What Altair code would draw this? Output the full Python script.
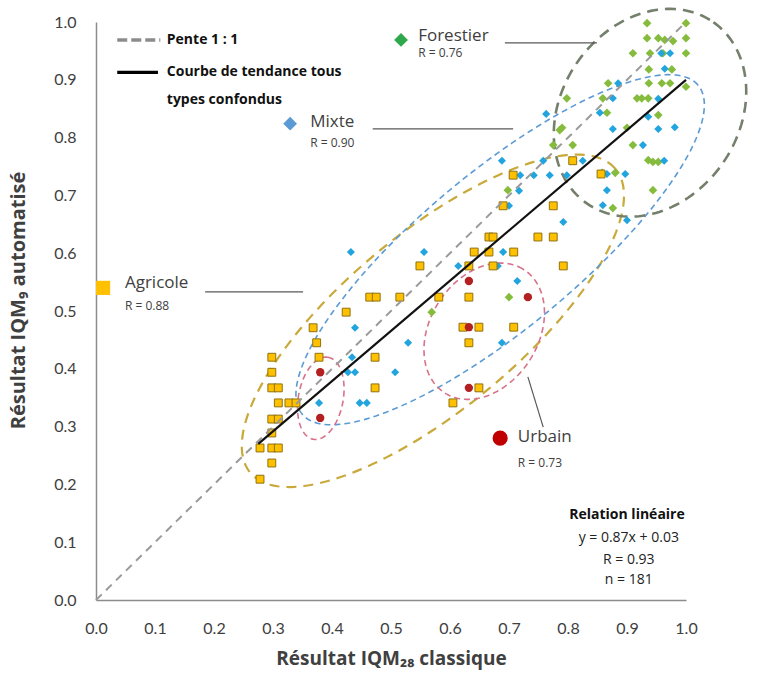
import altair as alt
import pandas as pd
import numpy as np

# ---------------- data ----------------
agricole_x = [0.278, 0.298, 0.278, 0.298, 0.309, 0.298, 0.298, 0.309, 0.309, 0.327,
              0.339, 0.298, 0.309, 0.298, 0.298, 0.378, 0.374, 0.368, 0.424, 0.473,
              0.473, 0.464, 0.475, 0.515, 0.581, 0.549, 0.632, 0.673, 0.792, 0.641,
              0.666, 0.708, 0.666, 0.673, 0.749, 0.775, 0.690, 0.775, 0.707, 0.808,
              0.856, 0.632, 0.622, 0.649, 0.708, 0.632, 0.649, 0.605]
agricole_y = [0.209, 0.237, 0.263, 0.263, 0.263, 0.289, 0.313, 0.313, 0.341, 0.341,
              0.341, 0.367, 0.367, 0.394, 0.420, 0.420, 0.445, 0.471, 0.498, 0.420,
              0.367, 0.524, 0.524, 0.524, 0.524, 0.578, 0.578, 0.578, 0.578, 0.602,
              0.602, 0.602, 0.628, 0.628, 0.628, 0.628, 0.682, 0.682, 0.735, 0.760,
              0.737, 0.524, 0.472, 0.472, 0.472, 0.445, 0.367, 0.341]

urbain_x = [0.380, 0.380, 0.632, 0.632, 0.632, 0.732]
urbain_y = [0.394, 0.315, 0.552, 0.472, 0.367, 0.524]

mixte_x = [0.378, 0.447, 0.459, 0.427, 0.439, 0.507, 0.434, 0.529, 0.439, 0.432,
           0.556, 0.614, 0.681, 0.690, 0.714, 0.688, 0.700, 0.717, 0.792, 0.688,
           0.758, 0.825, 0.719, 0.742, 0.769, 0.798, 0.763, 0.866, 0.897, 0.866,
           0.859, 0.900, 0.963, 0.927, 0.876, 0.953, 0.981, 0.854, 0.936, 0.876,
           0.953, 0.885, 0.964, 0.973, 0.958]
mixte_y = [0.341, 0.341, 0.341, 0.394, 0.394, 0.394, 0.420, 0.445, 0.471, 0.602,
           0.602, 0.578, 0.578, 0.602, 0.552, 0.445, 0.682, 0.708, 0.654, 0.760,
           0.760, 0.760, 0.735, 0.735, 0.735, 0.735, 0.841, 0.737, 0.737, 0.709,
           0.683, 0.657, 0.760, 0.787, 0.815, 0.815, 0.818, 0.843, 0.836, 0.868,
           0.867, 0.894, 0.919, 0.946, 0.946]

forestier_x = [0.934, 1.000, 0.934, 0.953, 0.964, 0.978, 1.000, 0.910, 0.939, 0.961,
               1.000, 0.937, 0.976, 0.868, 0.937, 0.959, 0.973, 1.000, 0.859, 0.917,
               0.925, 0.936, 0.798, 0.866, 0.953, 0.790, 0.900, 0.786, 0.775, 0.808,
               0.910, 0.936, 0.944, 0.953, 0.858, 0.880, 0.944, 0.876, 0.698, 0.700,
               0.569]
forestier_y = [0.998, 0.998, 0.972, 0.972, 0.969, 0.967, 0.972, 0.946, 0.946, 0.946,
               0.946, 0.918, 0.918, 0.894, 0.894, 0.894, 0.894, 0.888, 0.868, 0.868,
               0.868, 0.868, 0.868, 0.843, 0.839, 0.817, 0.817, 0.813, 0.787, 0.787,
               0.787, 0.761, 0.758, 0.758, 0.739, 0.739, 0.709, 0.678, 0.709, 0.524,
               0.498]

# 1:1 line and overall trend line (y = 0.87x + 0.03 as printed)
pente_x = [0.0, 1.0]
pente_y = [0.0, 1.0]
trend_x = [0.275, 1.0]
trend_y = [0.27, 0.90]

# dashed grouping ellipses: centre, semi-axes, tilt (degrees)
ell_names = ["Agricole", "Mixte", "Forestier", "Urbain1", "Urbain2"]
ell_cx = [0.571, 0.685, 0.939, 0.381, 0.658]
ell_cy = [0.483, 0.606, 0.843, 0.349, 0.465]
ell_a = [0.406, 0.440, 0.190, 0.072, 0.126]
ell_b = [0.151, 0.134, 0.151, 0.038, 0.092]
ell_ang = [40.5, 40.4, 57.7, 80.0, 59.0]

tick_values = [0.0, 0.1, 0.2, 0.3, 0.4, 0.5, 0.6, 0.7, 0.8, 0.9, 1.0]

# ---------------- styling ----------------
FONT = "Lato"
AFONT = "Open Sans"
TXT = "#404040"
W, H = 590, 578

xscale = alt.Scale(domain=[0, 1], nice=False, zero=False)
yscale = alt.Scale(domain=[0, 1], nice=False, zero=False)

x_axis = alt.Axis(values=tick_values, format=".1f", grid=False, ticks=False,
                  domainColor="#8c8c8c", domainWidth=1.5, labelFont=FONT,
                  labelFontSize=16, labelColor=TXT, labelPadding=20, labelFlush=False,
                  title="Résultat IQM₂₈ classique", titleFont=AFONT, titleFontSize=19,
                  titleFontWeight="bold", titleColor=TXT, titleBaseline="middle",
                  titleY=58)
y_axis = alt.Axis(values=tick_values, format=".1f", grid=False, ticks=False,
                  domainColor="#8c8c8c", domainWidth=1.5, labelFont=FONT,
                  labelFontSize=16, labelColor=TXT, labelPadding=20, labelFlush=False,
                  title="Résultat IQM₉ automatisé", titleFont=AFONT, titleFontSize=20,
                  titleFontWeight="bold", titleColor=TXT, titleAngle=-90,
                  titleBaseline="middle", titleAlign="center", titleX=-78, titleY=278)


def X():
    return alt.X("x:Q", scale=xscale, axis=x_axis)


def Y():
    return alt.Y("y:Q", scale=yscale, axis=y_axis)


layers = []

# ellipses
ell_styles = {
    "Agricole": dict(color="#c9a93a", strokeWidth=2.2, strokeDash=[10, 7]),
    "Mixte": dict(color="#5b9bd5", strokeWidth=1.6, strokeDash=[6, 4]),
    "Forestier": dict(color="#74806c", strokeWidth=2.6, strokeDash=[11, 7]),
    "Urbain1": dict(color="#d8718a", strokeWidth=1.6, strokeDash=[6, 4]),
    "Urbain2": dict(color="#d8718a", strokeWidth=1.6, strokeDash=[6, 4]),
}
t = np.linspace(0, 2 * np.pi, 181)
for n, cx, cy, a, b, ang in zip(ell_names, ell_cx, ell_cy, ell_a, ell_b, ell_ang):
    th = np.deg2rad(ang)
    ex = cx + a * np.cos(t) * np.cos(th) - b * np.sin(t) * np.sin(th)
    ey = cy + a * np.cos(t) * np.sin(th) + b * np.sin(t) * np.cos(th)
    df = pd.DataFrame({"x": ex, "y": ey, "i": np.arange(len(t))})
    layers.append(alt.Chart(df).mark_line(**ell_styles[n]).encode(
        x=X(), y=Y(), order="i:Q"))

# points
agri = pd.DataFrame({"x": agricole_x, "y": agricole_y})
urb = pd.DataFrame({"x": urbain_x, "y": urbain_y})
mix = pd.DataFrame({"x": mixte_x, "y": mixte_y})
forv = pd.DataFrame({"x": forestier_x, "y": forestier_y})

layers.append(alt.Chart(forv).mark_point(shape="diamond", filled=True, color="#86bc3d",
                                         opacity=1, size=75).encode(x=X(), y=Y()))
layers.append(alt.Chart(mix).mark_point(shape="diamond", filled=True, color="#22a5de",
                                        opacity=1, size=65).encode(x=X(), y=Y()))
layers.append(alt.Chart(agri).mark_point(shape="square", fill="#ffc000", stroke="#8f7210",
                                         strokeWidth=1, opacity=1, fillOpacity=1,
                                         size=62).encode(x=X(), y=Y()))
layers.append(alt.Chart(urb).mark_point(shape="circle", filled=True, color="#b41f1f",
                                        opacity=1, size=70).encode(x=X(), y=Y()))

# 1:1 and trend lines
layers.append(alt.Chart(pd.DataFrame({"x": pente_x, "y": pente_y})).mark_line(
    color="#9a9a9a", strokeWidth=2, strokeDash=[8, 6]).encode(x=X(), y=Y()))
layers.append(alt.Chart(pd.DataFrame({"x": trend_x, "y": trend_y})).mark_line(
    color="#111111", strokeWidth=2.2).encode(x=X(), y=Y()))

# ---------------- annotations ----------------
leg_lines = pd.DataFrame({
    "x": [0.036, 0.109, 0.036, 0.105],
    "y": [0.969, 0.969, 0.913, 0.913],
    "k": ["p", "p", "t", "t"],
})
layers.append(alt.Chart(leg_lines[leg_lines.k == "p"]).mark_line(
    color="#8c8c8c", strokeWidth=3.5, strokeDash=[10, 4]).encode(x=X(), y=Y()))
layers.append(alt.Chart(leg_lines[leg_lines.k == "t"]).mark_line(
    color="#000000", strokeWidth=3.2).encode(x=X(), y=Y()))
leg_text = pd.DataFrame({
    "x": [0.120, 0.120, 0.120],
    "y": [0.969, 0.913, 0.865],
    "t": ["Pente 1 : 1", "Courbe de tendance tous", "types confondus"],
})
layers.append(alt.Chart(leg_text).mark_text(align="left", baseline="middle", font=AFONT,
                                            fontSize=14, fontWeight="bold",
                                            color="#111111").encode(x=X(), y=Y(), text="t:N"))

lead = pd.DataFrame({
    "x": [0.693, 0.849, 0.469, 0.707, 0.185, 0.351, 0.732, 0.758],
    "y": [0.964, 0.964, 0.815, 0.815, 0.533, 0.533, 0.386, 0.299],
    "g": ["f", "f", "m", "m", "a", "a", "u", "u"],
})
layers.append(alt.Chart(lead).mark_line(color="#595959", strokeWidth=1.2).encode(
    x=X(), y=Y(), detail="g:N"))

layers.append(alt.Chart(pd.DataFrame({"x": [0.517], "y": [0.969]})).mark_point(
    shape="diamond", filled=True, color="#2ea84a", opacity=1, size=190).encode(x=X(), y=Y()))
layers.append(alt.Chart(pd.DataFrame({"x": [0.329], "y": [0.824]})).mark_point(
    shape="diamond", filled=True, color="#5b9bd5", opacity=1, size=190).encode(x=X(), y=Y()))
layers.append(alt.Chart(pd.DataFrame({"x": [0.012], "y": [0.540]})).mark_point(
    shape="square", filled=True, color="#ffc000", opacity=1, size=200).encode(x=X(), y=Y()))
layers.append(alt.Chart(pd.DataFrame({"x": [0.685], "y": [0.280]})).mark_point(
    shape="circle", filled=True, color="#c00000", opacity=1, size=230).encode(x=X(), y=Y()))

cat_text = pd.DataFrame({
    "x": [0.546, 0.363, 0.049, 0.715],
    "y": [0.976, 0.827, 0.548, 0.282],
    "t": ["Forestier", "Mixte", "Agricole", "Urbain"],
})
layers.append(alt.Chart(cat_text).mark_text(align="left", baseline="middle", font=AFONT,
                                            fontSize=17, color=TXT).encode(
    x=X(), y=Y(), text="t:N"))
r_text = pd.DataFrame({
    "x": [0.546, 0.363, 0.049, 0.715],
    "y": [0.946, 0.791, 0.509, 0.237],
    "t": ["R = 0.76", "R = 0.90", "R = 0.88", "R = 0.73"],
})
layers.append(alt.Chart(r_text).mark_text(align="left", baseline="middle", font=AFONT,
                                          fontSize=12, color=TXT).encode(
    x=X(), y=Y(), text="t:N"))

rel_title = pd.DataFrame({"x": [0.900], "y": [0.147], "t": ["Relation linéaire"]})
layers.append(alt.Chart(rel_title).mark_text(align="center", baseline="middle", font=AFONT,
                                             fontSize=14, fontWeight="bold",
                                             color="#111111").encode(x=X(), y=Y(), text="t:N"))
rel_text = pd.DataFrame({
    "x": [0.903, 0.903, 0.903],
    "y": [0.107, 0.069, 0.035],
    "t": ["y = 0.87x + 0.03", "R = 0.93", "n = 181"],
})
layers.append(alt.Chart(rel_text).mark_text(align="center", baseline="middle", font=AFONT,
                                            fontSize=14, color="#222222").encode(
    x=X(), y=Y(), text="t:N"))

chart = alt.layer(*layers).properties(
    width=W, height=H,
    autosize=alt.AutoSizeParams(type="none"),
    padding={"left": 96, "top": 22, "right": 90, "bottom": 73},
    background="white",
).configure_view(stroke=None)

chart.save("out.html", embed_options={"renderer": "svg", "actions": False})
